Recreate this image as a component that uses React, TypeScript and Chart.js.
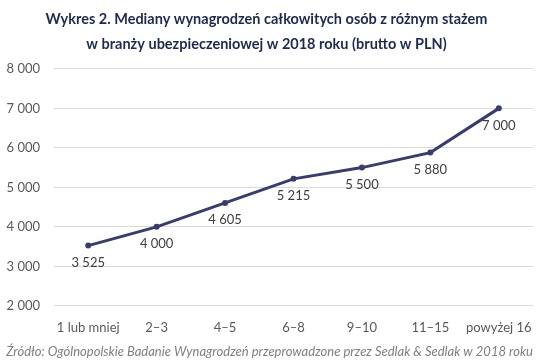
import React, { useEffect, useRef } from "react";
import { Chart, registerables } from "chart.js";

Chart.register(...registerables);

const categories = ["1 lub mniej", "2–3", "4–5", "6–8", "9–10", "11–15", "powyżej 16"];
const medianValues = [3525, 4000, 4605, 5215, 5500, 5880, 7000];
const titleLines = [
  "Wykres 2. Mediany wynagrodzeń całkowitych osób z różnym stażem",
  "w branży ubezpieczeniowej w 2018 roku (brutto w PLN)",
];
const sourceText = "Źródło: Ogólnopolskie Badanie Wynagrodzeń przeprowadzone przez Sedlak & Sedlak w 2018 roku";

const fmt = (v: number) => String(v).replace(/\B(?=(\d{3})+(?!\d))/g, " ");

const labelPlugin = {
  id: "pointLabels",
  afterDatasetsDraw(chart: any) {
    const ctx = chart.ctx;
    const meta = chart.getDatasetMeta(0);
    ctx.save();
    ctx.font = "13px Lato, 'Open Sans', sans-serif";
    ctx.fillStyle = "#404040";
    ctx.textAlign = "center";
    ctx.textBaseline = "middle";
    meta.data.forEach((el: any, i: number) => {
      ctx.fillText(fmt(medianValues[i]), el.x, el.y + 17);
    });
    ctx.restore();
  },
};

export default function App() {
  const ref = useRef<HTMLCanvasElement | null>(null);
  useEffect(() => {
    document.body.style.margin = "0";
    const chart = new Chart(ref.current!, {
      type: "line",
      data: {
        labels: categories,
        datasets: [
          {
            data: medianValues,
            borderColor: "#383C6E",
            backgroundColor: "#383C6E",
            borderWidth: 3,
            pointRadius: 3,
            pointBackgroundColor: "#383C6E",
            pointBorderWidth: 0,
            tension: 0,
          },
        ],
      },
      options: {
        animation: false,
        responsive: false,
        layout: { padding: { left: 0, right: 9, top: 7, bottom: 2 } },
        plugins: {
          legend: { display: false },
          tooltip: { enabled: false },
          title: {
            display: true,
            text: titleLines,
            color: "#1C2A52",
            font: { family: "Lato, 'Open Sans', sans-serif", size: 14.5, weight: "bold", lineHeight: 1.72 },
            padding: { top: 0, bottom: 12 },
          },
          subtitle: {
            display: true,
            position: "bottom",
            align: "end",
            text: sourceText,
            color: "#7F7F7F",
            font: { family: "Lato, 'Open Sans', sans-serif", size: 13, style: "italic" },
            padding: { top: 3, bottom: 0 },
          },
        },
        scales: {
          x: {
            offset: true,
            grid: { display: false },
            border: { display: false },
            ticks: {
              color: "#595959",
              font: { family: "Lato, 'Open Sans', sans-serif", size: 13 },
              maxRotation: 0,
              autoSkip: false,
              padding: 6,
            },
          },
          y: {
            min: 2000,
            max: 8000,
            afterFit: (s: any) => {
              s.width = 54;
            },
            grid: { color: "#D9D9D9", drawTicks: false },
            border: { display: false },
            ticks: {
              stepSize: 1000,
              color: "#595959",
              padding: 14,
              font: { family: "Lato, 'Open Sans', sans-serif", size: 13 },
              callback: (v: any) => fmt(Number(v)),
            },
          },
        },
      },
      plugins: [labelPlugin],
    });
    return () => chart.destroy();
  }, []);
  return (
    <div style={{ position: "fixed", left: 0, top: 0, width: 542, height: 362, background: "#fff" }}>
      <canvas ref={ref} width={542} height={362} />
    </div>
  );
}
